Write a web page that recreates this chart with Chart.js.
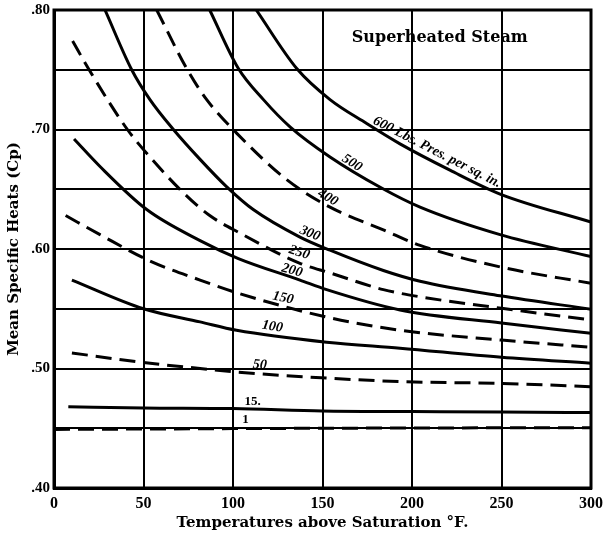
<!DOCTYPE html>
<html>
<head>
<meta charset="utf-8">
<script src="https://cdn.jsdelivr.net/npm/chart.js@4/dist/chart.umd.min.js"></script>
<style>
  html, body { margin: 0; padding: 0; background: #fff; }
  #wrap { width: 604px; height: 536px; }
</style>
</head>
<body>
<div id="wrap"><canvas id="myChart" width="604" height="536"></canvas></div>
<script>
// pressures (lbs per sq. in.) and curves
var pressures = ["1", "15", "50", "100", "150", "200", "250", "300", "400", "500", "600"];
var dashed = [true, false, true, false, true, false, true, false, true, false, false];

var t1 = [0, 100, 150, 200, 300];
var cp1 = [.449, .4497, .450, .4502, .4505];
var t15 = [8, 50, 100, 150, 200, 250, 300];
var cp15 = [.468, .467, .4665, .4645, .464, .4635, .4632];
var t50 = [10, 50, 81.6, 102, 152.3, 193.3, 250, 300];
var cp50 = [.513, .505, .500, .497, .492, .489, .4875, .4848];
var t100 = [10, 50, 81.6, 102, 152.3, 193.3, 250, 300];
var cp100 = [.574, .550, .539, .532, .522, .517, .5094, .5044];
var t150 = [6.5, 25.7, 53.6, 81.6, 103, 152.3, 193.3, 250, 300];
var cp150 = [.628, .612, .590, .574, .563, .543, .532, .5238, .5178];
var t200 = [11.2, 25.7, 51.8, 81.6, 103, 137.4, 152.3, 193.3, 250, 300];
var cp200 = [.692, .669, .633, .607, .592, .574, .566, .549, .538, .5295];
var t250 = [10.4, 19.2, 41, 53, 73, 87, 103, 137.4, 154.2, 184, 204.5, 250, 300];
var cp250 = [.774, .751, .700, .678, .646, .628, .614, .588, .580, .566, .560, .5504, .5406];
var t300 = [28.5, 43.4, 53.6, 66.7, 81.6, 96.5, 111.3, 137.4, 154.2, 184, 204.5, 249.2, 300];
var cp300 = [.800, .750, .725, .700, .675, .652, .633, .610, .599, .582, .573, .5608, .5496];
var t400 = [57.4, 74.5, 85.3, 102, 130, 154.2, 184, 204.5, 249.2, 300];
var cp400 = [.800, .750, .725, .697, .658, .635, .616, .603, .585, .5713];
var t500 = [87, 103, 117, 132, 154.2, 183, 204.5, 249.2, 300];
var cp500 = [.800, .751, .725, .702, .677, .651, .635, .612, .5936];
var t600 = [113, 135.6, 154.2, 174.7, 193.3, 221.2, 249.2, 300];
var cp600 = [.800, .751, .725, .705, .688, .666, .646, .6225];

var temps = [t1, t15, t50, t100, t150, t200, t250, t300, t400, t500, t600];
var heats = [cp1, cp15, cp50, cp100, cp150, cp200, cp250, cp300, cp400, cp500, cp600];

var xTicks = [0, 50, 100, 150, 200, 250, 300];
var yLabels = [".40", ".50", ".60", ".70", ".80"];

// curve labels: text, temperature, Cp, angle
var curveText = ["600 Lbs. Pres. per sq. in.", "500", "400", "300", "250", "200", "150", "100", "50", "15.", "1"];
var curveT = [214, 166.5, 153, 143, 137, 133, 128, 122, 115, 111, 107];
var curveCp = [.681, .672, .643, .613, .597, .582, .559, .535, .503, .472, .457];
var curveAngle = [27, 32, 30, 22, 18, 15, 12, 9, 5, 0, 0];

var serif = "'Liberation Serif', 'DejaVu Serif', serif";
var wide = "'DejaVu Serif', 'Liberation Serif', serif";

var datasets = [];
for (var i = 0; i < pressures.length; i++) {
    var pts = [];
    for (var j = 0; j < temps[i].length; j++) {
        pts.push({x: temps[i][j], y: heats[i][j]});
    }
    datasets.push({
        label: pressures[i],
        data: pts,
        borderColor: "#000",
        borderWidth: 3,
        borderDash: dashed[i] ? [16, 8] : [],
        pointRadius: 0,
        fill: false,
        cubicInterpolationMode: "monotone"
    });
}

// frame, title and curve labels
var plateText = {
    id: "plateText",
    afterDatasetsDraw: function(chart) {
        var c = chart.ctx, a = chart.chartArea;
        var sx = chart.scales.x, sy = chart.scales.y;
        c.save();
        c.strokeStyle = "#000";
        c.lineWidth = 3;
        c.strokeRect(a.left, a.top, a.right - a.left, a.bottom - a.top);
        c.fillStyle = "#000";
        c.font = "bold 16px " + wide;
        c.textAlign = "center";
        c.textBaseline = "middle";
        c.fillText("Superheated Steam", sx.getPixelForValue(215.5), sy.getPixelForValue(.7766));
        for (var k = 0; k < curveText.length; k++) {
            c.save();
            c.translate(sx.getPixelForValue(curveT[k]), sy.getPixelForValue(curveCp[k]));
            c.rotate(curveAngle[k] * Math.PI / 180);
            c.font = (curveAngle[k] ? "italic bold 14px " : "bold 13px ") + serif;
            c.fillText(curveText[k], 0, 0);
            c.restore();
        }
        c.restore();
    }
};

var ctx = document.getElementById("myChart").getContext("2d");
var myChart = new Chart(ctx, {
    type: "line",
    data: { datasets: datasets },
    plugins: [plateText],
    options: {
        responsive: false,
        animation: false,
        layout: { padding: { left: 0, right: 13, top: 10, bottom: 0 } },
        plugins: {
            legend: { display: false },
            tooltip: { enabled: false }
        },
        scales: {
            x: {
                type: "linear",
                min: 0,
                max: 300,
                afterFit: function(s) {
                    s.height = 48;
                    s.paddingLeft = 0;
                    s.paddingRight = 0;
                },
                afterBuildTicks: function(s) {
                    s.ticks = xTicks.map(function(v) { return {value: v}; });
                },
                grid: { color: "#000", lineWidth: 2, drawTicks: false },
                border: { color: "#000", width: 3 },
                ticks: {
                    color: "#000",
                    padding: 6,
                    font: { family: serif, size: 16, weight: "bold" }
                },
                title: {
                    display: true,
                    text: "Temperatures above Saturation \u00b0F.",
                    color: "#000",
                    padding: { top: 0, bottom: 4 },
                    font: { family: wide, size: 15, weight: "bold" }
                }
            },
            y: {
                min: 0.40,
                max: 0.80,
                afterFit: function(s) {
                    s.width = 54;
                    s.paddingTop = 0;
                    s.paddingBottom = 0;
                },
                grid: { color: "#000", lineWidth: 2, drawTicks: false },
                border: { color: "#000", width: 3 },
                ticks: {
                    stepSize: 0.05,
                    color: "#000",
                    padding: 4,
                    font: { family: serif, size: 15, weight: "bold" },
                    callback: function(v) {
                        var n = Math.round(v * 100);
                        if (n % 10 != 0) return "";
                        return yLabels[(n - 40) / 10];
                    }
                },
                title: {
                    display: true,
                    text: "Mean Specific Heats (Cp)",
                    color: "#000",
                    padding: { top: 5, bottom: 0 },
                    font: { family: wide, size: 15, weight: "bold" }
                }
            }
        }
    }
});
</script>
</body>
</html>
